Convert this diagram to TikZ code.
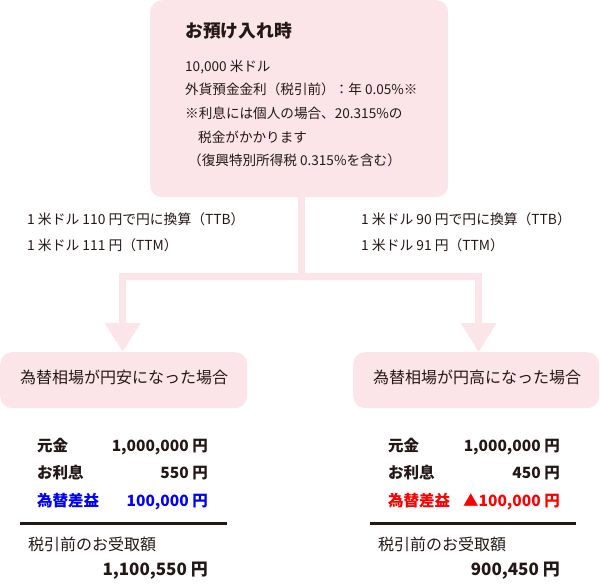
\documentclass[tikz,border=0pt]{standalone}
\usepackage{fontspec}
\setmainfont{Noto Sans CJK JP}
\usepackage{xcolor}
\usetikzlibrary{arrows.meta}

\definecolor{boxpink}{RGB}{251,229,233}
\definecolor{ink}{RGB}{35,24,21}
\definecolor{gainblue}{RGB}{0,0,255}
\definecolor{lossred}{RGB}{255,0,0}

\begin{document}
\begin{tikzpicture}[x=1pt,y=-1pt,
    pink box/.style={fill=boxpink,rounded corners=12pt,inner sep=0pt,anchor=north west},
    flow/.style={draw=boxpink,line width=7pt,-{Triangle[length=29pt,width=34pt]}},
    body text/.style={anchor=west,inner sep=0pt,text=ink,text height=.88em,text depth=.12em,font=\fontsize{13.6}{15}\selectfont},
    rate text/.style={body text,font=\fontsize{13.8}{15}\selectfont},
    head text/.style={body text,font=\fontsize{17.8}{19}\selectfont\bfseries},
    case text/.style={body text,font=\fontsize{16}{18}\selectfont},
    row text/.style={body text,font=\fontsize{15.5}{17}\selectfont\bfseries},
    row value/.style={row text,anchor=east},
    total text/.style={body text,anchor=east,font=\fontsize{17}{19}\selectfont\bfseries},
    rule line/.style={draw=ink,line width=3pt}]
  \useasboundingbox (0,0) rectangle (600,586);

  % boxes
  \node[pink box,minimum width=298pt,minimum height=197pt] (deposit) at (150,0) {};
  \node[pink box,minimum width=247pt,minimum height=56pt] (weak) at (0,352) {};
  \node[pink box,minimum width=246pt,minimum height=56pt] (strong) at (353,352) {};

  % arrows
  \coordinate (split) at (301,276.5);
  \coordinate (weakin) at (122.7,352);
  \coordinate (strongin) at (478.7,352);
  \draw[flow] (deposit.south -| split) -- (split) -| (weakin);
  \draw[flow] (deposit.south -| split) -- (split) -| (strongin);

  % deposit box text
  \node[head text] (dtitle) at (185,34) {お預け入れ時};
  \node[body text] (damount) at (185,68) {10,000 米ドル};
  \node[body text] (drate) at (185,91) {外貨預金金利（税引前）：年 0.05\%※};
  \node[body text] (dnote1) at (185,115) {※利息には個人の場合、20.315\%の};
  \node[body text] (dnote2) at (198,139) {税金がかかります};
  \node[body text] (dnote3) at (188,162) {（復興特別所得税 0.315\%を含む）};

  % exchange rates
  \node[rate text] (weakttb) at (27,221) {1 米ドル 110 円で円に換算（TTB）};
  \node[rate text] (weakttm) at (27,247) {1 米ドル 111 円（TTM）};
  \node[rate text] (strongttb) at (361,221) {1 米ドル 90 円で円に換算（TTB）};
  \node[rate text] (strongttm) at (361,247) {1 米ドル 91 円（TTM）};

  % case labels
  \node[case text] (weaklabel) at (20,380) {為替相場が円安になった場合};
  \node[case text] (stronglabel) at (373,380) {為替相場が円高になった場合};

  % yen weak table
  \node[row text] (wprin) at (37,448) {元金};
  \node[row value] (wprinv) at (208,448) {1,000,000 円};
  \node[row text] (wint) at (37,475) {お利息};
  \node[row value] (wintv) at (208,475) {550 円};
  \node[row text,text=gainblue] (wfx) at (37,503) {為替差益};
  \node[row value,text=gainblue] (wfxv) at (208,503) {100,000 円};
  \draw[rule line] (20,523) -- (227,523);
  \node[case text] (wtotal) at (28,547) {税引前のお受取額};
  \node[total text] (wtotalv) at (208,572) {1,100,550 円};

  % yen strong table
  \node[row text] (sprin) at (388,448) {元金};
  \node[row value] (sprinv) at (560,448) {1,000,000 円};
  \node[row text] (sint) at (388,475) {お利息};
  \node[row value] (sintv) at (560,475) {450 円};
  \node[row text,text=lossred] (sfx) at (388,503) {為替差益};
  \node[row value,text=lossred] (sfxv) at (560,503) {▲100,000 円};
  \draw[rule line] (370,523) -- (576,523);
  \node[case text] (stotal) at (378,547) {税引前のお受取額};
  \node[total text] (stotalv) at (560,572) {900,450 円};
\end{tikzpicture}
\end{document}
